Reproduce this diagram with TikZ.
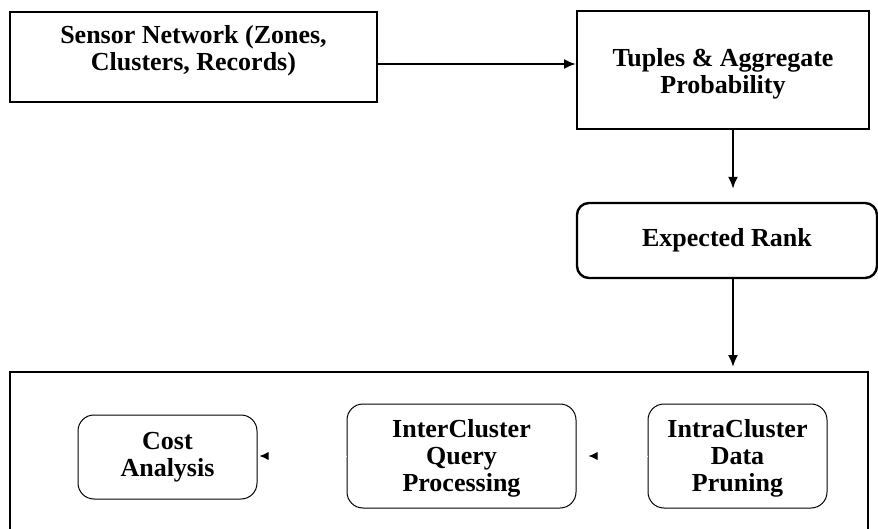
\documentclass[tikz,border=0pt]{standalone}
\usepackage{fontspec}
\setmainfont{Liberation Serif}
\usetikzlibrary{arrows.meta}
\usetikzlibrary{positioning}
\tikzset{
    block/.style={draw, line width=1pt, align=center, inner sep=0pt,
        font=\fontsize{13}{13.5}\selectfont\bfseries},
    roundblock/.style={block, rounded corners=8pt, line width=0.5pt},
    arr/.style={line width=1pt, -{Latex[length=6pt,width=5pt]}},
    gaptip/.style={draw=white, -{Latex[black,length=4.5pt,width=4pt]}}
}

\begin{document}
\begin{tikzpicture}[x=0.5pt, y=-0.5pt]
  \useasboundingbox (0,0) rectangle (878,529);
  \node[block, minimum width=183.5pt, minimum height=45pt, text depth=9pt] (sensor) at (193.5,57) {Sensor Network (Zones,\\Clusters, Records)};
  \node[block, minimum width=146pt, minimum height=59pt, text height=26.3pt] (tuples) at (723,70) {Tuples \& Aggregate\\Probability};
  \node[block, rounded corners=6pt, line width=1.2pt, minimum width=150pt, minimum height=37.5pt] (rank) at (727,240.5) {Expected Rank};
  % outer frame runs past the bottom edge
  \node[block, minimum width=429pt, minimum height=86.5pt] (phase) at (439,458.5) {};
  \node[roundblock, minimum width=89.5pt, minimum height=42pt] (cost) at (167.5,457) {Cost\\Analysis};
  \node[roundblock, minimum width=114.5pt, minimum height=52pt, text height=38.3pt] (inter) at (461.5,456) {InterCluster\\Query\\Processing};
  \node[roundblock, minimum width=89.5pt, minimum height=52pt, text height=38.3pt] (intra) at (737.5,456) {IntraCluster\\Data\\Pruning};
  \coordinate (feed) at (0,64);
  \coordinate (down) at (733,0);
  \draw[arr] (sensor.east |- feed) -- (tuples.west |- feed);
  \draw[arr, shorten >=6.5pt] (tuples.south -| down) -- (rank.north -| down);
  \draw[arr, shorten >=2pt] (rank.south -| down) -- (phase.north -| down);
  \draw[gaptip, shorten >=6pt] (intra.west) -- (inter.east);
  \draw[gaptip, shorten >=1pt] (inter.west) -- (cost.east |- inter.west);
\end{tikzpicture}
\end{document}
